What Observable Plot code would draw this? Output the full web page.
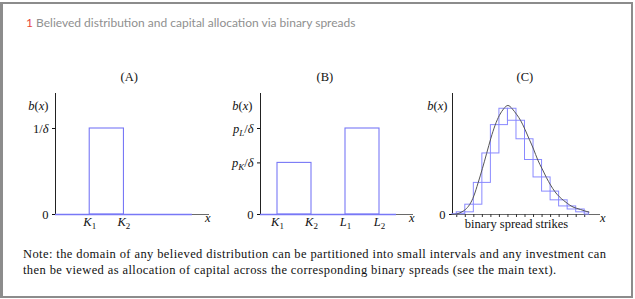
<!DOCTYPE html>
<html><head><meta charset="utf-8">
<script src="https://cdn.jsdelivr.net/npm/d3@7"></script>
<script src="https://cdn.jsdelivr.net/npm/@observablehq/plot@0.6"></script>
<style>
body{margin:0;background:#fff;}
#wrap{position:relative;width:635px;height:299px;overflow:hidden;background:#fff}
#frame{position:absolute;left:0;top:2px;width:628px;height:292px;border:2px solid #8c8c8c;border-left-width:3px}
#title{position:absolute;left:26px;top:15px;font:12px Lato, sans-serif;color:#8f8f8f;white-space:nowrap}
#title span{color:#e8473c}
.panel{position:absolute;top:60px}
.panel svg, .panel svg text{font-family:"Liberation Serif",serif !important;font-size:12.5px;}
#note{position:absolute;left:23px;top:246px;font:12.5px "Liberation Serif",serif;letter-spacing:0.4px;line-height:16px;color:#111;white-space:nowrap}
</style></head><body>
<div id="wrap">
<div id="frame"></div>
<div id="title"><span>1</span> Believed distribution and capital allocation via binary spreads</div>
<div class="panel" id="pa" style="left:0px"></div>
<div class="panel" id="pb" style="left:215px"></div>
<div class="panel" id="pc" style="left:420px"></div>
<div id="note">Note: the domain of any believed distribution can be partitioned into small intervals and any investment can<br>then be viewed as allocation of capital across the corresponding binary spreads (see the main text).</div>
</div>
<script>
// ---- data ----
const panelLabels = ["(A)", "(B)", "(C)"];
const yAxisLabel = "b(x)";
const xAxisLabel = "x";

// Panel A
const aBarStart = [1];
const aBarEnd = [2];
const aBarHeight = [1];
const aBaselineEnd = 4;
const aXTicks = [1, 2];
const aXTickLabels = ["K_1", "K_2"];
const aYTicks = [0, 1];
const aYTickLabels = ["0", "1/δ"];

// Panel B
const bBarStart = [0.5, 2.5];
const bBarEnd = [1.5, 3.5];
const bBarHeight = [0.6, 1.0];
const bBaselineEnd = 4;
const bXTicks = [0.5, 1.5, 2.5, 3.5];
const bXTickLabels = ["K_1", "K_2", "L_1", "L_2"];
const bYTicks = [0, 0.6, 1];
const bYTickLabels = ["0", "p_K/δ", "p_L/δ"];

// Panel C
const cBinEdges = [0, 0.5, 1.5, 2.5, 3.5, 4.5, 5.5, 6.5, 7.5, 8.5, 9.5, 10.5, 11.5, 12.5, 13.5, 14.5, 15.5, 16];
const cBinLevels = [0.003, 0.02, 0.09, 0.29, 0.56, 0.82, 0.97, 0.97, 0.86, 0.69, 0.50, 0.34, 0.21, 0.13, 0.074, 0.046, 0.02];
const cPeakBin = 6;
const cCurveX = [0, 0.5, 1, 1.5, 2, 2.5, 3, 3.5, 4, 4.5, 5, 5.5, 6, 6.5, 7, 7.5, 8, 8.5, 9, 9.5, 10, 10.5, 11, 11.5, 12, 12.5, 13, 13.5, 14, 14.5, 15, 15.5, 16];
const cCurveY = [0, 0.005, 0.02, 0.045, 0.09, 0.17, 0.29, 0.42, 0.56, 0.70, 0.82, 0.91, 0.97, 1.0, 0.97, 0.92, 0.86, 0.78, 0.69, 0.60, 0.50, 0.42, 0.34, 0.27, 0.21, 0.165, 0.13, 0.10, 0.074, 0.058, 0.046, 0.033, 0.022];
const cYTicks = [0];
const cYTickLabels = ["0"];
const cXLabel = "binary spread strikes";
const cXLabelAt = 7.5;

// ---- helpers ----
const BLUE = "#7878f6";
const mathStrings = new Set([...aXTickLabels, ...aYTickLabels, ...bXTickLabels, ...bYTickLabels, yAxisLabel, xAxisLabel]);

function mathify(el, s) {
  el.textContent = "";
  const ns = "http://www.w3.org/2000/svg";
  const re = /([A-Za-zδ])(?:_([0-9A-Za-z]))?|([^A-Za-zδ_]+)/g;
  let m;
  while ((m = re.exec(s))) {
    if (m[3]) {
      const t = document.createElementNS(ns, "tspan"); t.textContent = m[3]; el.appendChild(t);
    } else {
      const t = document.createElementNS(ns, "tspan"); t.textContent = m[1]; t.setAttribute("font-style", "italic"); el.appendChild(t);
      if (m[2]) {
        const sub = document.createElementNS(ns, "tspan");
        sub.textContent = m[2];
        sub.setAttribute("font-size", "9px");
        sub.setAttribute("baseline-shift", "-3");
        if (/[A-Za-z]/.test(m[2])) sub.setAttribute("font-style", "italic");
        el.appendChild(sub);
      }
    }
  }
}
function postProcess(svg) {
  svg.querySelectorAll("text").forEach(el => {
    const s = el.textContent;
    if (mathStrings.has(s)) mathify(el, s);
  });
  return svg;
}

function panel({width, marginLeft, marginRight, xDomain, yDomain, yTicks, yTickLabels, label, labelDx, xEndDx, yLabDx, marks}) {
  const ymap = new Map(yTicks.map((d, i) => [d, yTickLabels[i]]));
  return postProcess(Plot.plot({
    width, height: 175, marginLeft, marginRight, marginTop: 33, marginBottom: 21,
    style: {fontFamily: "'Liberation Serif', serif", fontSize: "12.5px", background: "transparent", color: "#111", overflow: "visible"},
    x: {domain: xDomain, axis: null},
    y: {domain: yDomain, ticks: yTicks, tickFormat: d => ymap.get(d), tickSize: 3, tickPadding: 4, label: null},
    marks: [
      Plot.ruleY([0], {x1: xDomain[0], x2: xDomain[1], stroke: "#6a6a6a"}),
      Plot.ruleX([0], {y1: yDomain[0], y2: yDomain[1], stroke: "#222"}),
      ...marks,
      Plot.text([yAxisLabel], {frameAnchor: "top-left", dx: yLabDx, dy: 8, textAnchor: "end"}),
      Plot.text([xAxisLabel], {frameAnchor: "bottom-right", dx: xEndDx, dy: 7}),
      Plot.text([label], {frameAnchor: "top-left", dx: labelDx, dy: -21})
    ]
  }));
}

// Panel A
document.getElementById("pa").appendChild(panel({
  width: 215, marginLeft: 55, marginRight: 6, xDomain: [0, 4.5], yDomain: [0, 1.407],
  yTicks: aYTicks, yTickLabels: aYTickLabels,
  label: panelLabels[0], labelDx: 65, xEndDx: 1, yLabDx: -7,
  marks: [
    Plot.ruleY([0], {x1: 0, x2: aBaselineEnd, stroke: BLUE, strokeWidth: 1.3}),
    Plot.rect(aBarStart.map((d, i) => i), {x1: i => aBarStart[i], x2: i => aBarEnd[i], y1: 0, y2: i => aBarHeight[i], fill: "none", stroke: BLUE, strokeWidth: 1.1}),
    Plot.text(aXTicks, {x: d => d, y: 0, text: (d, i) => aXTickLabels[i], lineAnchor: "top", dy: 3})
  ]
}));

// Panel B
document.getElementById("pb").appendChild(panel({
  width: 205, marginLeft: 45, marginRight: 7, xDomain: [0, 4.5], yDomain: [0, 1.407],
  yTicks: bYTicks, yTickLabels: bYTickLabels,
  label: panelLabels[1], labelDx: 56, xEndDx: 1, yLabDx: -8,
  marks: [
    Plot.ruleY([0], {x1: 0, x2: bBaselineEnd, stroke: BLUE, strokeWidth: 1.3}),
    Plot.rect(bBarStart.map((d, i) => i), {x1: i => bBarStart[i], x2: i => bBarEnd[i], y1: 0, y2: i => bBarHeight[i], fill: "none", stroke: BLUE, strokeWidth: 1.1}),
    Plot.text(bXTicks, {x: d => d, y: 0, text: (d, i) => bXTickLabels[i], lineAnchor: "top", dy: 3})
  ]
}));

// Panel C
const cBins = cBinLevels.map((v, i) => ({
  x1: cBinEdges[i], x2: cBinEdges[i + 1], y2: v,
  y1: i <= cPeakBin ? (i > 0 ? cBinLevels[i - 1] : 0) : (i < cBinLevels.length - 1 ? cBinLevels[i + 1] : 0)
}));
const cCurve = cCurveX.map((x, i) => ({x, y: cCurveY[i]}));
document.getElementById("pc").appendChild(panel({
  width: 215, marginLeft: 32, marginRight: 35, xDomain: [0, 17.35], yDomain: [0, 1.11],
  yTicks: cYTicks, yTickLabels: cYTickLabels,
  label: panelLabels[2], labelDx: 64, xEndDx: 5, yLabDx: -5,
  marks: [
    Plot.ruleX(cBinEdges.slice(1, -1), {x: d => d, y1: 0, y2: 0, insetBottom: -3, stroke: "#333"}),
    Plot.rect(cBins, {x1: "x1", x2: "x2", y1: "y1", y2: "y2", fill: "none", stroke: "#8a8aff", strokeWidth: 1}),
    Plot.line(cCurve, {x: "x", y: "y", curve: "natural", stroke: "#555", strokeWidth: 1}),
    Plot.text([cXLabel], {x: cXLabelAt, y: 0, dy: 5, lineAnchor: "top"})
  ]
}));
</script>
</body></html>
